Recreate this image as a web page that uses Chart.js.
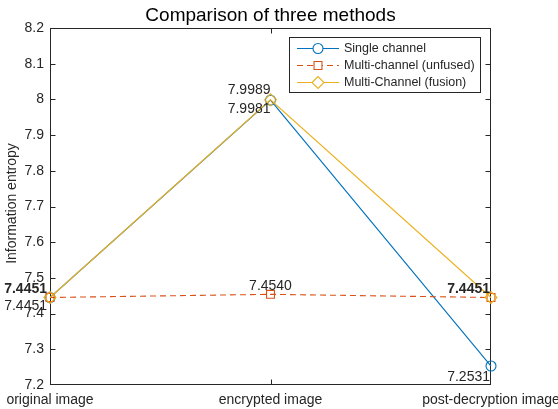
<!DOCTYPE html>
<html>
<head>
<meta charset="utf-8">
<script src="https://cdn.jsdelivr.net/npm/chart.js@4/dist/chart.umd.min.js"></script>
<style>
  html, body { margin: 0; padding: 0; background: #ffffff; }
  #wrap { width: 558px; height: 409px; }
</style>
</head>
<body>
<div id="wrap"><canvas id="c" width="558" height="409"></canvas></div>
<script>
// Categories along the x axis
const categories = ['original image', 'encrypted image', 'post-decryption image'];

// Information entropy per method
const singleChannel = [7.4451, 7.9981, 7.2531];
const multiUnfused  = [7.4451, 7.4540, 7.4451];
const multiFusion   = [7.4451, 7.9989, 7.4451];

// Series names
const seriesNames = ['Single channel', 'Multi-channel (unfused)', 'Multi-Channel (fusion)'];

// Y axis range and tick spacing
const yMin = 7.2, yMax = 8.2, yStep = 0.1;

const AXIS = '#262626';
const FONT = '"Liberation Sans", Arial, Helvetica, sans-serif';
const BLUE = '#0072BD', ORANGE = '#D95319', YELLOW = '#EDB120';

// Value annotations: [dataset index, point index, dx, dy, align, weight]
const annotations = [
  [2, 0, -3, -8, 'right', 'bold'],
  [0, 0, -3, 9, 'right', 'normal'],
  [2, 1, 0, -10, 'right', 'normal'],
  [0, 1, 0, 9, 'right', 'normal'],
  [1, 1, 0, -8, 'center', 'normal'],
  [2, 2, -1, -8, 'right', 'bold'],
  [0, 2, -1, 11, 'right', 'normal']
];

const matlabFrame = {
  id: 'matlabFrame',
  beforeDatasetsDraw(chart) {
    const { ctx, chartArea: a, scales } = chart;
    ctx.save();
    ctx.strokeStyle = AXIS;
    ctx.lineWidth = 1;
    const L = Math.round(a.left) + 0.5, R = Math.round(a.right) - 0.5;
    const T = Math.round(a.top) + 0.5, B = Math.round(a.bottom) - 0.5;
    ctx.strokeRect(L, T, R - L, B - T);
    // inward tick marks on all four sides
    ctx.beginPath();
    scales.y.ticks.forEach(t => {
      const y = Math.min(B, Math.max(T, Math.round(scales.y.getPixelForValue(t.value)) + 0.5));
      ctx.moveTo(L, y); ctx.lineTo(L + 5, y);
      ctx.moveTo(R, y); ctx.lineTo(R - 5, y);
    });
    categories.forEach((c, i) => {
      const x = Math.min(R, Math.max(L, Math.round(scales.x.getPixelForValue(i)) + 0.5));
      ctx.moveTo(x, B); ctx.lineTo(x, B - 5);
      ctx.moveTo(x, T); ctx.lineTo(x, T + 5);
    });
    ctx.stroke();
    ctx.restore();
  },
  afterDatasetsDraw(chart) {
    const { ctx } = chart;
    ctx.save();
    ctx.fillStyle = AXIS;
    ctx.textBaseline = 'middle';
    annotations.forEach(([d, i, dx, dy, align, weight]) => {
      const pt = chart.getDatasetMeta(d).data[i];
      const v = chart.data.datasets[d].data[i];
      ctx.font = weight + ' 14px ' + FONT;
      ctx.textAlign = align;
      ctx.fillText(v.toFixed(4), pt.x + dx, pt.y + dy);
    });
    ctx.restore();
  },
  afterDraw(chart) {
    const { ctx, chartArea: a } = chart;
    ctx.save();
    // title
    ctx.fillStyle = '#000000';
    ctx.font = '19px ' + FONT;
    ctx.textAlign = 'center';
    ctx.textBaseline = 'middle';
    ctx.fillText('Comparison of three methods', (a.left + a.right) / 2, 16);
    // y axis title
    ctx.fillStyle = AXIS;
    ctx.font = '14px ' + FONT;
    ctx.translate(12, (a.top + a.bottom) / 2 - 3);
    ctx.rotate(-Math.PI / 2);
    ctx.fillText('Information entropy', 0, 0);
    ctx.restore();

    // legend box
    ctx.save();
    const bx = 289.5, by = 37.5, bw = 191, bh = 55;
    ctx.fillStyle = '#ffffff';
    ctx.fillRect(bx, by, bw, bh);
    ctx.strokeStyle = AXIS;
    ctx.lineWidth = 1;
    ctx.strokeRect(bx, by, bw, bh);
    ctx.font = '12.5px ' + FONT;
    ctx.textAlign = 'left';
    ctx.textBaseline = 'middle';
    chart.data.datasets.forEach((ds, k) => {
      const y = 48.5 + k * 17;
      ctx.strokeStyle = ds.borderColor;
      ctx.lineWidth = ds.borderWidth;
      ctx.setLineDash(ds.borderDash || []);
      ctx.beginPath();
      ctx.moveTo(297, y); ctx.lineTo(339, y);
      ctx.stroke();
      ctx.setLineDash([]);
      ctx.fillStyle = '#ffffff';
      Chart.helpers.drawPoint(ctx, {
        pointStyle: ds.pointStyle, radius: ds.pointRadius, rotation: 0,
        borderWidth: ds.pointBorderWidth
      }, 318, y);
      ctx.fillStyle = AXIS;
      ctx.fillText(ds.label, 344, y + 0.5);
    });
    ctx.restore();
  }
};

const series = [singleChannel, multiUnfused, multiFusion];
const styles = [
  { color: BLUE, style: 'circle', radius: 5, dash: [], order: 3 },
  { color: ORANGE, style: 'rect', radius: 5.6, dash: [6, 4], order: 2 },
  { color: YELLOW, style: 'rectRot', radius: 6, dash: [], order: 1 }
];

new Chart(document.getElementById('c'), {
  type: 'line',
  data: {
    labels: categories,
    datasets: series.map((vals, k) => ({
      label: seriesNames[k],
      data: vals,
      borderColor: styles[k].color,
      backgroundColor: 'rgba(0,0,0,0)',
      borderWidth: 1.1,
      borderDash: styles[k].dash,
      pointStyle: styles[k].style,
      pointRadius: styles[k].radius,
      pointBorderColor: styles[k].color,
      pointBackgroundColor: 'rgba(0,0,0,0)',
      pointBorderWidth: 1.1,
      tension: 0,
      fill: false,
      clip: false,
      order: styles[k].order
    }))
  },
  options: {
    responsive: false,
    animation: false,
    devicePixelRatio: 1,
    layout: { padding: { left: 0, right: 67, top: 28, bottom: 0 } },
    plugins: { legend: { display: false }, tooltip: { enabled: false }, title: { display: false } },
    scales: {
      x: {
        type: 'category',
        offset: false,
        grid: { display: false, drawTicks: false },
        border: { display: false },
        ticks: { color: AXIS, font: { family: FONT, size: 14 }, padding: 7, maxRotation: 0, autoSkip: false },
        afterFit(s) { s.height = 24; s.paddingLeft = 0; s.paddingRight = 0; }
      },
      y: {
        min: yMin,
        max: yMax,
        grid: { display: false, drawTicks: false },
        border: { display: false },
        ticks: {
          stepSize: yStep,
          color: AXIS,
          font: { family: FONT, size: 14 },
          padding: 6,
          callback: v => String(Math.round(v * 10) / 10)
        },
        afterFit(s) { s.width = 50; s.paddingTop = 0; s.paddingBottom = 0; }
      }
    }
  },
  plugins: [matlabFrame]
});
</script>
</body>
</html>
